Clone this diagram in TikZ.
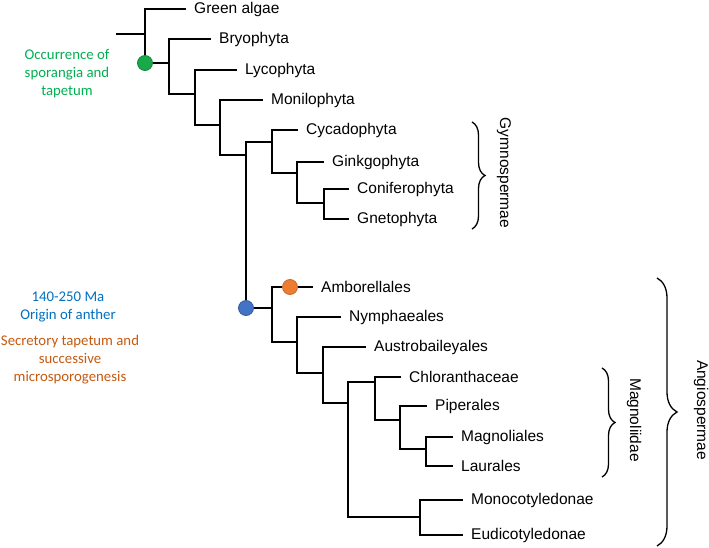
\documentclass[tikz,border=0pt]{standalone}
\usepackage{fontspec}
\setmainfont{Liberation Sans}
\newfontfamily\calibrifont{Carlito}
\usetikzlibrary{decorations.pathreplacing}
\definecolor{anngreen}{HTML}{00B050}
\definecolor{annblue}{HTML}{0070C0}
\definecolor{annorange}{HTML}{C55A11}
\definecolor{dotgreen}{HTML}{19A84A}
\definecolor{dotblue}{HTML}{4472C4}
\definecolor{dotorange}{HTML}{ED7D31}
\tikzset{
  branch/.style={line width=1.5pt, line cap=rect},
  leaf/.style={anchor=west, inner xsep=9pt, inner ysep=0pt, font=\fontsize{15.5}{18}\selectfont},
  ann/.style={align=center, font=\calibrifont\fontsize{14.8}{18}\selectfont},
  dotm/.style={circle, minimum size=15pt, inner sep=0pt, line width=0.8pt},
  bracket/.style={line width=1.3pt, decorate, decoration={brace, amplitude=#1}},
  cladename/.style={rotate=-90, font=\fontsize{15.5}{18}\selectfont}
}
\begin{document}
\begin{tikzpicture}[x=1pt,y=-1pt]
\useasboundingbox (0,0) rectangle (709,548);
% internal nodes
\coordinate (r0) at (117,34);
\coordinate (n1) at (145,34);
\coordinate (n2) at (169,63);
\coordinate (n3) at (195,94);
\coordinate (n4) at (220,125);
\coordinate (n5) at (246,155);
\coordinate (gym) at (272,142);
\coordinate (g2) at (297,173);
\coordinate (g3) at (324,203);
\coordinate (ang) at (272,308);
\coordinate (a2) at (297,342);
\coordinate (a3) at (323,373);
\coordinate (a4) at (348,403);
\coordinate (mag) at (375,382);
\coordinate (m2) at (400,420);
\coordinate (m3) at (426,449);
\coordinate (eud) at (420,517);
% leaves
\node[leaf] (greenalgae) at (185,9) {Green algae};
\node[leaf] (bryo) at (210,39) {Bryophyta};
\node[leaf] (lyco) at (236,70) {Lycophyta};
\node[leaf] (moni) at (262,100) {Monilophyta};
\node[leaf] (cyca) at (297,130) {Cycadophyta};
\node[leaf] (gink) at (323,162) {Ginkgophyta};
\node[leaf] (coni) at (348,189) {Coniferophyta};
\node[leaf] (gneto) at (348,219) {Gnetophyta};
\node[leaf] (ambo) at (312,287) {Amborellales};
\node[leaf] (nymph) at (340,317) {Nymphaeales};
\node[leaf] (austro) at (365,347) {Austrobaileyales};
\node[leaf] (chlor) at (400,377) {Chloranthaceae};
\node[leaf] (piper) at (426,406) {Piperales};
\node[leaf] (magno) at (452,437) {Magnoliales};
\node[leaf] (laur) at (452,466) {Laurales};
\node[leaf] (mono) at (462,500) {Monocotyledonae};
\node[leaf] (eudi) at (462,535) {Eudicotyledonae};
% branches
\draw[branch] (r0) -- (n1);
\draw[branch] (n1) |- (greenalgae.west);
\draw[branch] (n1) |- (n2);
\draw[branch] (n2) |- (bryo.west);
\draw[branch] (n2) |- (n3);
\draw[branch] (n3) |- (lyco.west);
\draw[branch] (n3) |- (n4);
\draw[branch] (n4) |- (moni.west);
\draw[branch] (n4) |- (n5);
\draw[branch] (n5) |- (gym);
\draw[branch] (n5) |- (ang);
\draw[branch] (gym) |- (cyca.west);
\draw[branch] (gym) |- (g2);
\draw[branch] (g2) |- (gink.west);
\draw[branch] (g2) |- (g3);
\draw[branch] (g3) |- (coni.west);
\draw[branch] (g3) |- (gneto.west);
\draw[branch] (ang) |- (ambo.west);
\draw[branch] (ang) |- (a2);
\draw[branch] (a2) |- (nymph.west);
\draw[branch] (a2) |- (a3);
\draw[branch] (a3) |- (austro.west);
\draw[branch] (a3) |- (a4);
\draw[branch] (a4) |- (mag);
\draw[branch] (a4) |- (eud);
\draw[branch] (mag) |- (chlor.west);
\draw[branch] (mag) |- (m2);
\draw[branch] (m2) |- (piper.west);
\draw[branch] (m2) |- (m3);
\draw[branch] (m3) |- (magno.west);
\draw[branch] (m3) |- (laur.west);
\draw[branch] (eud) |- (mono.west);
\draw[branch] (eud) |- (eudi.west);
% markers
\node[dotm, fill=dotgreen, draw=dotgreen!80!black] (gdot) at (145,63) {};
\node[dotm, fill=dotblue, draw=dotblue!80!black] (bdot) at (246,308) {};
\node[dotm, fill=dotorange, draw=dotorange!85!black] (odot) at (290,287) {};
% annotations
\node[ann, text=anngreen] (anngreen) at (67,74) {Occurrence of\\sporangia and\\tapetum};
\node[ann, text=annblue] (annblue) at (68,307) {140-250 Ma\\Origin of anther};
\node[ann, text=annorange] (annorange) at (70,360) {Secretory tapetum and\\successive\\microsporogenesis};
% brackets
\coordinate (gb1) at (472,122);
\coordinate (gb2) at (472,229);
\draw[bracket=13pt] (gb1) -- (gb2);
\node[cladename] (gymname) at (504,173) {Gymnospermae};
\coordinate (mb1) at (602,368);
\coordinate (mb2) at (602,477);
\draw[bracket=13pt] (mb1) -- (mb2);
\node[cladename] (magname) at (634,420) {Magnoliidae};
\coordinate (ab1) at (657,278);
\coordinate (ab2) at (657,546);
\draw[bracket=20pt] (ab1) -- (ab2);
\node[cladename] (angname) at (701,410) {Angiospermae};
\end{tikzpicture}
\end{document}
